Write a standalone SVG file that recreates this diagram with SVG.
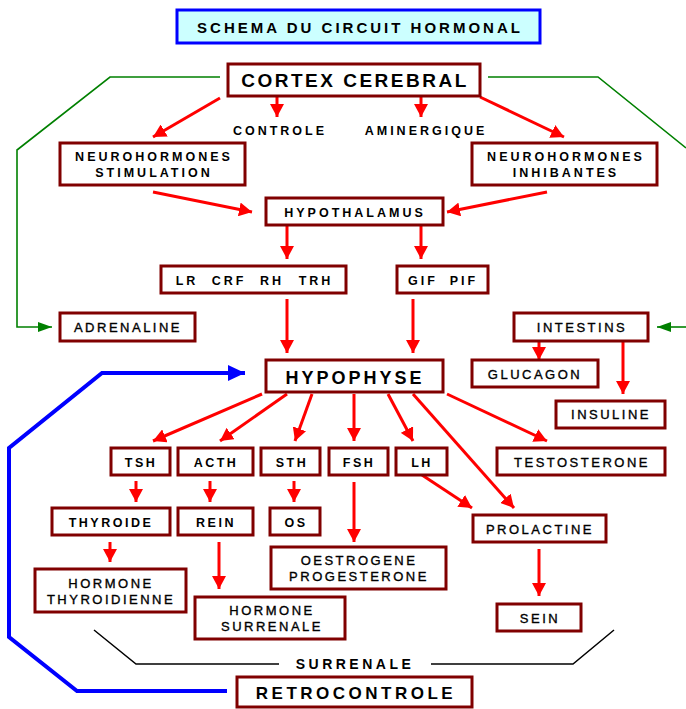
<svg xmlns="http://www.w3.org/2000/svg" width="686" height="709" viewBox="0 0 686 709">
<style>
.box{fill:#fff;stroke:#800000;stroke-width:3}
.t{font-family:"Liberation Sans",Arial,sans-serif;fill:#000;text-anchor:middle}
.b{font-weight:bold;font-size:12.5px;letter-spacing:3px}
.r{font-size:13px;letter-spacing:2.5px;stroke:#000;stroke-width:0.35}
.sb{font-weight:bold;font-size:12.5px;letter-spacing:2.5px}
.big{font-weight:bold;font-size:18px;letter-spacing:3px}
.red{stroke:#ff0000;stroke-width:3;fill:none;marker-end:url(#ra)}
.grn{stroke:#008000;stroke-width:1.6;fill:none}
</style>
<defs>
<marker id="ra" viewBox="0 0 13 14" refX="13" refY="7" markerWidth="13" markerHeight="14" markerUnits="userSpaceOnUse" orient="auto"><path d="M0,0 L13,7 L0,14 Z" fill="#ff0000"/></marker>
<marker id="ga" viewBox="0 0 14 10" refX="14" refY="5" markerWidth="14" markerHeight="10" markerUnits="userSpaceOnUse" orient="auto"><path d="M0,0 L14,5 L0,10 Z" fill="#008000"/></marker>
<marker id="ba" viewBox="0 0 17 16" refX="17" refY="8" markerWidth="17" markerHeight="16" markerUnits="userSpaceOnUse" orient="auto"><path d="M0,0 L17,8 L0,16 Z" fill="#0000ff"/></marker>
</defs>

<g id="title">
<rect x="177" y="10" width="363" height="33" fill="#ccffff" stroke="#0000ff" stroke-width="3"/>
<text class="t" x="360" y="33" style="font-weight:bold;font-size:15px;letter-spacing:3px">SCHEMA DU CIRCUIT HORMONAL</text>
</g>

<g id="connectors">
<path class="grn" d="M220,77 L110,77 L17,150 L17,327 L52,327" marker-end="url(#ga)"/>
<path class="grn" d="M488,77 L598,77 L686,148"/>
<path class="grn" d="M686,327 L657,327" marker-end="url(#ga)"/>
<path d="M227,691 L77,691 L9,637 L9,448 L102,373 L245,373" stroke="#0000ff" stroke-width="4" fill="none" stroke-linejoin="miter" marker-end="url(#ba)"/>
<path d="M94,630 L136,664 L279,664 M431,664 L573,664 L614,630" stroke="#000" stroke-width="1.5" fill="none"/>
<line class="red" x1="220" y1="98" x2="153" y2="137"/>
<line class="red" x1="277" y1="97" x2="277" y2="117"/>
<line class="red" x1="421" y1="97" x2="421" y2="117"/>
<line class="red" x1="480" y1="97" x2="564" y2="137"/>
<line class="red" x1="153" y1="192" x2="252" y2="212"/>
<line class="red" x1="547" y1="192" x2="447" y2="212"/>
<line class="red" x1="287" y1="226" x2="287" y2="259"/>
<line class="red" x1="421" y1="226" x2="421" y2="259"/>
<line class="red" x1="287" y1="299" x2="287" y2="353"/>
<line class="red" x1="413" y1="299" x2="413" y2="353"/>
<line class="red" x1="539" y1="341" x2="539" y2="360"/>
<line class="red" x1="623" y1="341" x2="623" y2="394"/>
<line class="red" x1="262" y1="394" x2="153" y2="441"/>
<line class="red" x1="287" y1="394" x2="220" y2="441"/>
<line class="red" x1="312" y1="394" x2="295" y2="441"/>
<line class="red" x1="354" y1="394" x2="354" y2="441"/>
<line class="red" x1="388" y1="394" x2="413" y2="441"/>
<line class="red" x1="413" y1="394" x2="514" y2="508"/>
<line class="red" x1="447" y1="394" x2="547" y2="441"/>
<line class="red" x1="136" y1="481" x2="136" y2="502"/>
<line class="red" x1="210" y1="481" x2="210" y2="502"/>
<line class="red" x1="294" y1="481" x2="294" y2="502"/>
<line class="red" x1="354" y1="482" x2="354" y2="542"/>
<line class="red" x1="422" y1="475" x2="472" y2="508"/>
<line class="red" x1="110" y1="542" x2="110" y2="562"/>
<line class="red" x1="219" y1="542" x2="219" y2="589"/>
<line class="red" x1="539" y1="549" x2="539" y2="596"/>
</g>

<g id="cortex"><rect class="box" x="228" y="64" width="252" height="32"/><text class="t" x="355" y="87" style="font-weight:bold;font-size:19px;letter-spacing:2.5px">CORTEX CEREBRAL</text></g>
<g id="controle"><text class="t b" x="280" y="135">CONTROLE</text></g>
<g id="aminergique"><text class="t b" x="426" y="135">AMINERGIQUE</text></g>
<g id="neuro-stim"><rect class="box" x="60" y="143" width="185" height="42"/><text class="t b" x="154" y="161">NEUROHORMONES</text><text class="t b" x="154" y="177">STIMULATION</text></g>
<g id="neuro-inhib"><rect class="box" x="472" y="143" width="185" height="42"/><text class="t b" x="566" y="161">NEUROHORMONES</text><text class="t b" x="566" y="177">INHIBANTES</text></g>
<g id="hypothalamus"><rect class="box" x="266" y="198" width="177" height="27"/><text class="t b" x="355" y="217">HYPOTHALAMUS</text></g>
<g id="lr-crf-rh-trh"><rect class="box" x="161" y="266" width="185" height="27"/><text class="t b" x="187" y="285">LR</text><text class="t b" x="229" y="285">CRF</text><text class="t b" x="272" y="285">RH</text><text class="t b" x="316" y="285">TRH</text></g>
<g id="gif-pif"><rect class="box" x="397" y="266" width="91" height="27"/><text class="t b" x="423" y="285">GIF</text><text class="t b" x="464" y="285">PIF</text></g>
<g id="adrenaline"><rect class="box" x="60" y="313" width="135" height="28"/><text class="t r" x="128" y="332">ADRENALINE</text></g>
<g id="intestins"><rect class="box" x="514" y="313" width="134" height="28"/><text class="t r" x="582" y="332">INTESTINS</text></g>
<g id="hypophyse"><rect class="box" x="266" y="360" width="177" height="32"/><text class="t big" x="355" y="384">HYPOPHYSE</text></g>
<g id="glucagon"><rect class="box" x="472" y="360" width="126" height="27"/><text class="t r" x="535" y="379">GLUCAGON</text></g>
<g id="insuline"><rect class="box" x="556" y="401" width="109" height="27"/><text class="t r" x="611" y="419">INSULINE</text></g>
<g id="tsh"><rect class="box" x="111" y="448" width="59" height="27"/><text class="t sb" x="141" y="467">TSH</text></g>
<g id="acth"><rect class="box" x="178" y="448" width="75" height="27"/><text class="t sb" x="216" y="467">ACTH</text></g>
<g id="sth"><rect class="box" x="261" y="448" width="59" height="27"/><text class="t sb" x="292" y="467">STH</text></g>
<g id="fsh"><rect class="box" x="329" y="448" width="59" height="27"/><text class="t sb" x="359" y="467">FSH</text></g>
<g id="lh"><rect class="box" x="396" y="448" width="51" height="27"/><text class="t sb" x="422" y="467">LH</text></g>
<g id="testosterone"><rect class="box" x="497" y="448" width="168" height="27"/><text class="t r" x="582" y="467">TESTOSTERONE</text></g>
<g id="thyroide"><rect class="box" x="52" y="508" width="118" height="27"/><text class="t sb" x="111" y="527">THYROIDE</text></g>
<g id="rein"><rect class="box" x="178" y="508" width="75" height="27"/><text class="t sb" x="216" y="527">REIN</text></g>
<g id="os"><rect class="box" x="270" y="508" width="50" height="27"/><text class="t sb" x="296" y="527">OS</text></g>
<g id="prolactine"><rect class="box" x="473" y="515" width="133" height="27"/><text class="t r" x="540" y="534">PROLACTINE</text></g>
<g id="oestrogene"><rect class="box" x="271" y="547" width="175" height="42"/><text class="t r" x="359" y="565">OESTROGENE</text><text class="t r" x="359" y="581">PROGESTERONE</text></g>
<g id="hormone-thyroidienne"><rect class="box" x="35" y="569" width="151" height="43"/><text class="t r" x="111" y="588">HORMONE</text><text class="t r" x="111" y="604">THYROIDIENNE</text></g>
<g id="hormone-surrenale"><rect class="box" x="195" y="597" width="150" height="42"/><text class="t r" x="272" y="615">HORMONE</text><text class="t r" x="272" y="631">SURRENALE</text></g>
<g id="sein"><rect class="box" x="497" y="604" width="84" height="27"/><text class="t r" x="540" y="623">SEIN</text></g>
<g id="surrenale"><text class="t" x="355" y="669" style="font-weight:bold;font-size:14px;letter-spacing:3.5px">SURRENALE</text></g>
<g id="retrocontrole"><rect class="box" x="237" y="677" width="235" height="30"/><text class="t" x="356" y="699" style="font-weight:bold;font-size:17px;letter-spacing:3.5px">RETROCONTROLE</text></g>
</svg>
